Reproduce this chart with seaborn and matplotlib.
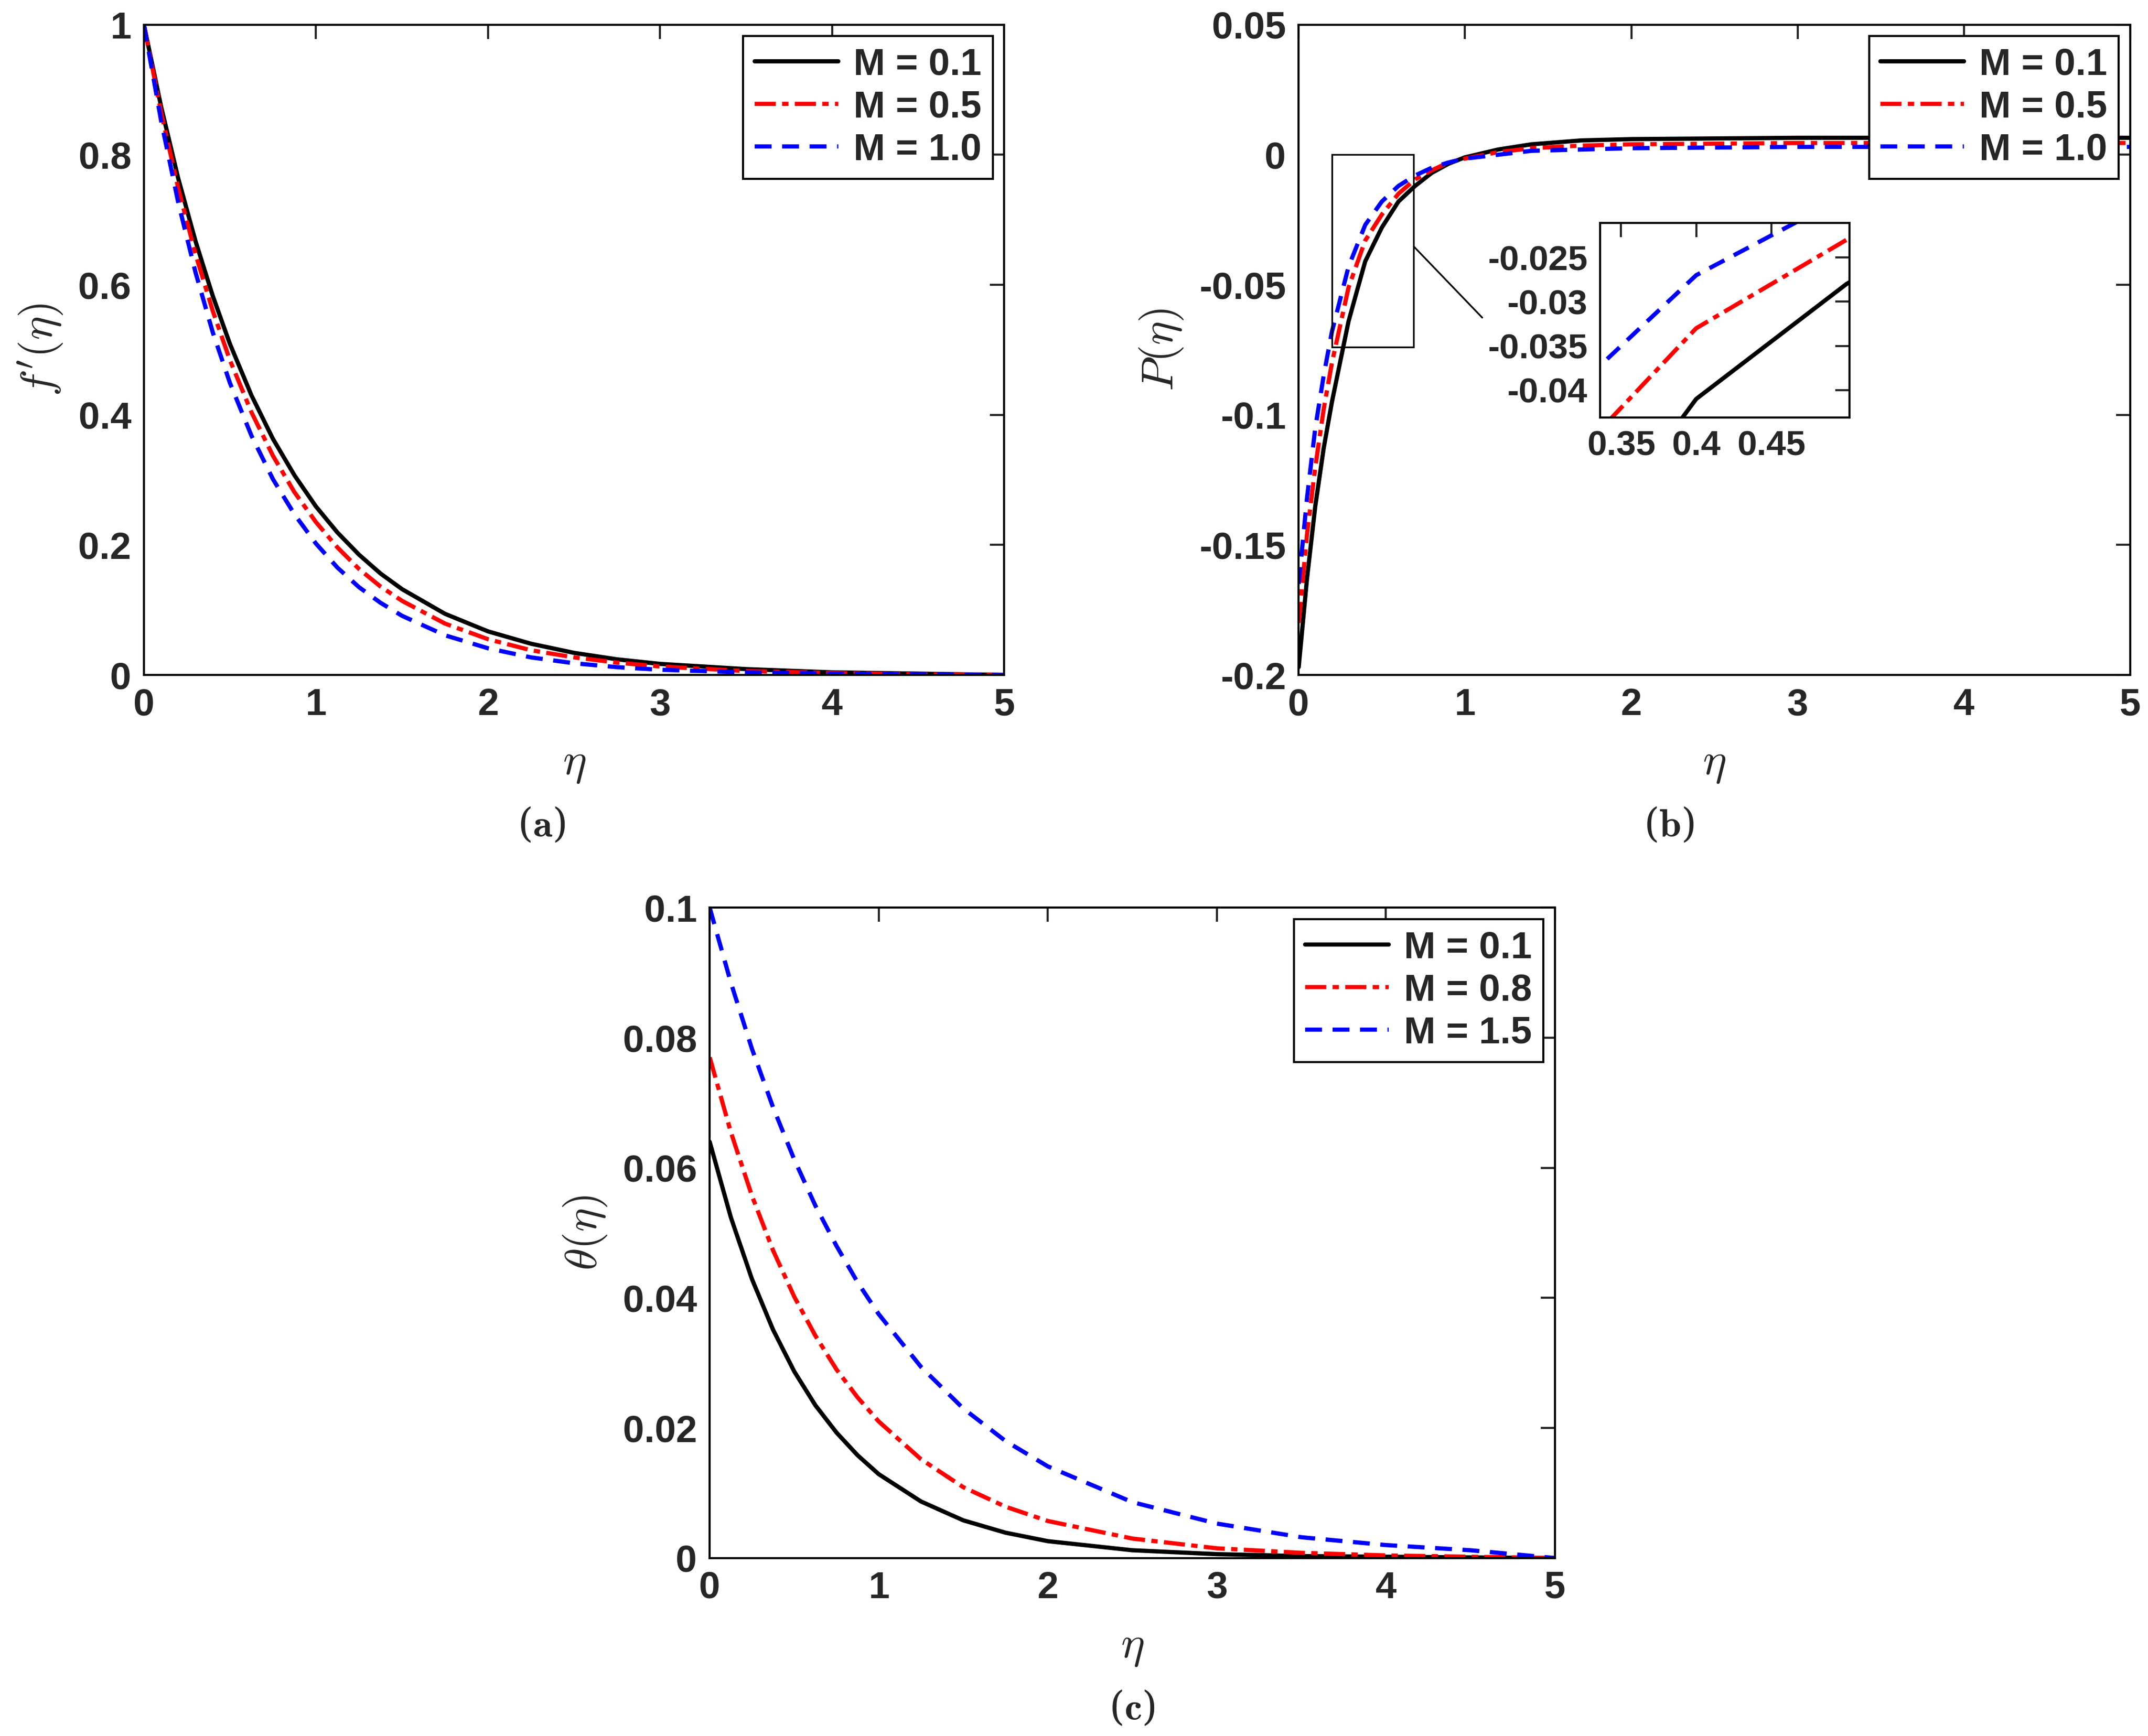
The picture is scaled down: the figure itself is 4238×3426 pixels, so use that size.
import numpy as np
import pandas as pd
import seaborn as sns
import matplotlib
matplotlib.use("Agg")
import matplotlib.pyplot as plt
from matplotlib.patches import Rectangle

sns.set_style("white")
plt.rcParams['font.family'] = ['Liberation Sans', 'DejaVu Sans']
plt.rcParams['font.weight'] = 'bold'
plt.rcParams['mathtext.fontset'] = 'cm'

# ---- data ----
eta_a = [0, 0.1, 0.2, 0.3, 0.4, 0.5, 0.625, 0.75, 0.875, 1, 1.125, 1.25, 1.375, 1.5, 1.75, 2,
         2.25, 2.5, 2.75, 3, 3.5, 4, 4.5, 5]
fp_M01 = [1, .874, .763, .667, .583, .509, .430, .363, .307, .259, .219, .185, .156, .132, .094, .067,
          .048, .034, .024, .017, .009, .004, .002, 0]
fp_M05 = [1, .865, .748, .647, .560, .484, .404, .337, .281, .235, .196, .163, .136, .114, .079, .055,
          .038, .027, .019, .013, .006, .003, .001, 0]
fp_M10 = [1, .852, .726, .619, .527, .449, .368, .301, .247, .202, .165, .135, .111, .091, .061, .041,
          .027, .018, .012, .008, .004, .002, .001, 0]
labels_ab = ["M = 0.1", "M = 0.5", "M = 1.0"]

eta_b = [0, 0.05, 0.1, 0.15, 0.2, 0.3, 0.4, 0.5, 0.6, 0.7, 0.8, 0.9, 1, 1.2, 1.4, 1.7, 2, 3, 4, 5]
P_M01 = [-0.197, -0.163, -0.135, -0.113, -0.095, -0.064, -0.041, -0.028, -0.018, -0.012, -0.007,
         -0.0035, -0.001, 0.002, 0.004, 0.0055, 0.006, 0.0065, 0.0065, 0.0065]
P_M05 = [-0.18, -0.146, -0.12, -0.098, -0.08, -0.051, -0.033, -0.023, -0.015, -0.0095, -0.006,
         -0.003, -0.0015, 0.001, 0.0025, 0.0035, 0.004, 0.0045, 0.0045, 0.0045]
P_M10 = [-0.165, -0.132, -0.105, -0.085, -0.068, -0.043, -0.027, -0.018, -0.012, -0.008, -0.005,
         -0.003, -0.0015, 0.0, 0.0015, 0.002, 0.0025, 0.003, 0.003, 0.003]

eta_c = [0, 0.125, 0.25, 0.375, 0.5, 0.625, 0.75, 0.875, 1, 1.25, 1.5, 1.75, 2, 2.5, 3, 3.5, 4, 4.5, 5]
th_M01 = [.064, .0524, .0429, .0351, .0287, .0235, .0193, .0158, .0129, .0087, .0058, .0039, .0026,
          .0012, .0006, .0003, .0002, .0001, 0]
th_M08 = [.077, .0655, .0557, .0473, .0402, .0342, .0290, .0247, .0210, .0152, .0109, .0079, .0057,
          .0030, .0015, .0008, .0004, .0002, 0]
th_M15 = [.100, .0885, .0783, .0693, .0613, .0542, .0480, .0424, .0375, .0294, .0230, .0180, .0141,
          .0086, .0053, .0032, .0020, .0012, 0]
labels_c = ["M = 0.1", "M = 0.8", "M = 1.5"]

colors = ["black", "red", "blue"]
styles = ["-", (0, (5, 1.5, 1.5, 1.5)), (0, (4, 2.5))]
LW = 3.0
TFS = 27

def long(eta, ys, labels):
    return pd.concat([pd.DataFrame({"eta": eta, "y": y, "M": l}) for y, l in zip(ys, labels)])

fig = plt.figure(figsize=(21.19, 17.13), dpi=200)

def draw(ax, df, labels, legend=True, fs=TFS):
    for l, c, s in zip(labels, colors, styles):
        sub = df[df.M == l]
        sns.lineplot(data=sub, x="eta", y="y", ax=ax, color=c, linestyle=s, lw=LW,
                     label=l if legend else None, estimator=None, sort=False)
    ax.tick_params(direction="in", top=True, right=True, length=10, width=1.5, labelsize=fs, pad=9)
    for sp in ax.spines.values():
        sp.set_color("black"); sp.set_linewidth(1.5)

def style_main(ax, ylabel):
    ax.set_xlim(0, 5)
    ax.set_xticks([0, 1, 2, 3, 4, 5])
    ax.set_xticklabels(["0", "1", "2", "3", "4", "5"])
    ax.set_xlabel(r"$\eta$", fontsize=32, labelpad=14)
    ax.set_ylabel(ylabel, fontsize=32, labelpad=10)
    leg = ax.legend(loc="upper right", fontsize=TFS, frameon=True, fancybox=False, framealpha=1,
                    handlelength=2.2, borderpad=0.3, labelspacing=0.2, handletextpad=0.4,
                    borderaxespad=0.3)
    leg.set_zorder(20)
    leg.get_frame().set_edgecolor("black"); leg.get_frame().set_linewidth(1.5)
    for t in leg.get_texts():
        t.set_fontweight("bold")
    for t in ax.get_xticklabels() + ax.get_yticklabels():
        t.set_fontweight("bold")

# (a)
axa = fig.add_axes([0.067, 0.6112, 0.4005, 0.3746])
draw(axa, long(eta_a, [fp_M01, fp_M05, fp_M10], labels_ab), labels_ab)
axa.set_ylim(0, 1)
axa.set_yticks([0, 0.2, 0.4, 0.6, 0.8, 1])
axa.set_yticklabels(["0", "0.2", "0.4", "0.6", "0.8", "1"])
style_main(axa, r"$f'(\eta)$")

# (b)
axb = fig.add_axes([0.6046, 0.6112, 0.3871, 0.3746])
dfb = long(eta_b, [P_M01, P_M05, P_M10], labels_ab)
draw(axb, dfb, labels_ab)
axb.set_ylim(-0.2, 0.05)
axb.set_yticks([-0.2, -0.15, -0.1, -0.05, 0, 0.05])
axb.set_yticklabels(["-0.2", "-0.15", "-0.1", "-0.05", "0", "0.05"])
style_main(axb, r"$P(\eta)$")
axb.add_patch(Rectangle((0.2, -0.074), 0.49, 0.074, fill=False, ec="black", lw=1.2, zorder=5))

axi = fig.add_axes([0.7449, 0.7595, 0.1161, 0.112])
draw(axi, dfb, labels_ab, legend=False, fs=25)
axi.set_xlim(0.336, 0.502)
axi.set_ylim(-0.0431, -0.0211)
axi.set_xticks([0.35, 0.4, 0.45])
axi.set_xticklabels(["0.35", "0.4", "0.45"])
axi.set_yticks([-0.04, -0.035, -0.03, -0.025])
axi.set_yticklabels(["-0.04", "-0.035", "-0.03", "-0.025"])
axi.set_xlabel(""); axi.set_ylabel("")
for t in axi.get_xticklabels() + axi.get_yticklabels():
    t.set_fontweight("bold")
fig.add_artist(plt.Line2D([1032/1568, 1082/1568], [1-180/1268, 1-232/1268],
                          color="black", lw=1.2, transform=fig.transFigure))

# (c)
axc = fig.add_axes([0.3304, 0.1025, 0.3935, 0.3746])
draw(axc, long(eta_c, [th_M01, th_M08, th_M15], labels_c), labels_c)
axc.set_ylim(0, 0.1)
axc.set_yticks([0, 0.02, 0.04, 0.06, 0.08, 0.1])
axc.set_yticklabels(["0", "0.02", "0.04", "0.06", "0.08", "0.1"])
style_main(axc, r"$\theta(\eta)$")

for lab, x, y in [("a", 0.252, 0.5245), ("b", 0.777, 0.5245), ("c", 0.527, 0.0158)]:
    fig.text(x, y, "(" + r"$\mathbf{" + lab + "}$" + ")", fontsize=28, ha="center", va="center",
             family="DejaVu Serif", fontweight="normal")

fig.savefig("out.png", dpi=200, facecolor="white")
